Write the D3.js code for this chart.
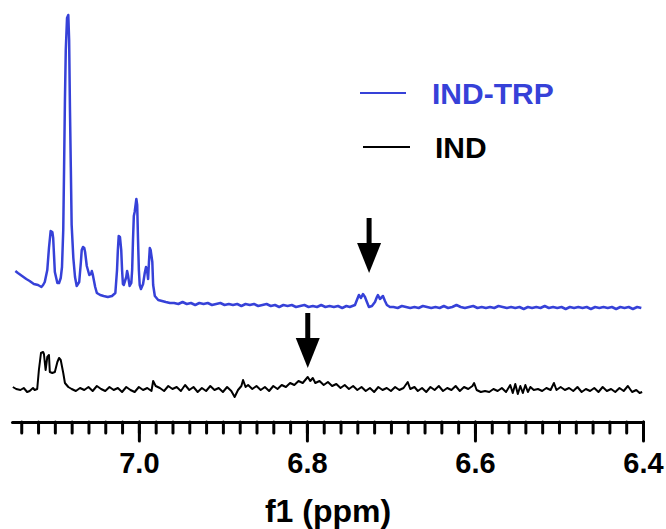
<!DOCTYPE html>
<html>
<head>
<meta charset="utf-8">
<script src="https://cdn.jsdelivr.net/npm/d3@7"></script>
<style>
  body { margin: 0; background: #fff; }
  svg text { font-family: "Liberation Sans", Arial, sans-serif; font-weight: bold; }
</style>
</head>
<body>
<div id="chart"></div>
<script>
// Spectra: [ppm, intensity] (intensity relative to each trace's baseline)
const indTrp = [
  [7.147,35],[7.144,33],[7.139,30],[7.134,27],[7.130,25],[7.125,22],[7.120,21],[7.116,19],[7.114,21],[7.112,24],
  [7.109,36],[7.107,58],[7.105,75],[7.103,74],[7.102,68],[7.101,51],[7.100,34],[7.097,23],[7.095,23],[7.093,28],
  [7.0915,39],[7.090,76],[7.089,139],[7.088,206],[7.087,256],[7.0855,288],[7.084,291],[7.083,266],[7.082,196],[7.081,139],
  [7.080,81],[7.078,48],[7.076,29],[7.074,20],[7.071,24],[7.069,44],[7.068,56],[7.0665,59],[7.065,58],[7.064,54],
  [7.062,40],[7.059,31],[7.057,32],[7.056,35],[7.055,32],[7.052,19],[7.050,13],[7.046,11],[7.042,10],[7.037,9],
  [7.032,10],[7.028,13],[7.026,36],[7.025,56],[7.024,70],[7.0225,69],[7.021,56],[7.020,36],[7.019,22],[7.018,21],
  [7.015,29],[7.014,35],[7.013,31],[7.011,20],[7.009,23],[7.008,36],[7.007,66],[7.006,90],[7.005,94],[7.003,107],
  [7.002,101],[7.001,66],[7.000,36],[6.999,21],[6.9975,17],[6.995,22],[6.993,33],[6.9915,39],[6.990,34],[6.989,27],
  [6.988,44],[6.987,58],[6.986,56],[6.984,44],[6.983,21],[6.981,10],[6.977,6],[6.9725,5],[6.968,4],[6.963,3],
  [6.958,3],[6.953,2],[6.948,4],[6.943,2],[6.938,3],[6.933,1],[6.928,3],[6.923,2],[6.918,3],[6.913,1],
  [6.908,2],[6.903,3],[6.898,1],[6.893,2],[6.888,1],[6.883,2],[6.878,0],[6.873,2],[6.868,1],[6.863,2],
  [6.858,0],[6.853,1],[6.848,2],[6.843,0],[6.838,1],[6.833,-1],[6.828,1],[6.823,0],[6.818,1],[6.813,-1],
  [6.808,0],[6.803,1],[6.798,-1],[6.793,0],[6.788,-1],[6.783,1],[6.778,-1],[6.773,0],[6.768,-1],[6.763,0],
  [6.758,-2],[6.753,0],[6.749,-1],[6.7428,1],[6.7405,6],[6.7381,11],[6.7357,8],[6.7333,12],[6.7309,9],[6.7286,4],
  [6.7262,-1],[6.7226,0],[6.7190,4],[6.7167,9],[6.7155,11],[6.7131,7],[6.7107,9],[6.7095,10],[6.7071,5],[6.7048,1],
  [6.7012,-1],[6.697,-1],[6.692,-2],[6.687,0],[6.682,-1],[6.677,-2],[6.672,-1],[6.667,-2],[6.662,0],[6.657,-1],
  [6.652,-2],[6.647,-1],[6.642,-2],[6.637,0],[6.632,-2],[6.627,-1],[6.622,1],[6.617,-1],[6.612,-2],[6.607,-1],
  [6.602,0],[6.597,-2],[6.592,-1],[6.587,-2],[6.582,-1],[6.577,-2],[6.572,0],[6.567,-1],[6.562,-2],[6.557,-1],
  [6.552,-2],[6.547,-1],[6.542,-3],[6.537,-1],[6.532,-2],[6.527,-1],[6.522,-2],[6.517,0],[6.512,-2],[6.507,-1],
  [6.502,-2],[6.497,-1],[6.492,-3],[6.487,-1],[6.482,-2],[6.477,-1],[6.472,-2],[6.467,-1],[6.462,-3],[6.457,-1],
  [6.452,-2],[6.447,-1],[6.442,-2],[6.437,-1],[6.432,-3],[6.427,-1],[6.422,-2],[6.417,-1],[6.412,-3],[6.407,-1],
  [6.402,-2]
];

const ind = [
  [7.150,2],[7.146,0],[7.141,-1],[7.137,1],[7.133,-3],[7.130,-2],[7.126,1],[7.124,-1],[7.121,0],[7.119,19],
  [7.1165,36],[7.114,37],[7.113,35],[7.111,19],[7.109,32],[7.107,34],[7.106,17],[7.103,16],[7.100,17],[7.097,27],
  [7.095,31],[7.093,29],[7.090,16],[7.088,6],[7.084,2],
  [7.080,0],[7.075,-2],[7.070,1],[7.065,-1],[7.060,2],[7.055,-2],[7.050,3],[7.045,0],[7.040,-2],[7.035,2],
  [7.030,-1],[7.025,1],[7.020,-3],[7.015,2],[7.010,-1],[7.005,-3],[7.000,2],[6.995,-1],[6.990,1],[6.985,-2],
  [6.983,8],[6.980,3],[6.975,1],[6.970,-2],[6.965,3],[6.960,0],[6.955,2],[6.950,-2],[6.945,4],[6.940,-1],
  [6.935,2],[6.930,-3],[6.925,1],[6.920,-2],[6.915,3],[6.910,-1],[6.905,1],[6.900,-3],[6.895,2],[6.890,-2],
  [6.886,-8],[6.882,-1],[6.878,3],[6.876,9],[6.873,2],[6.870,4],[6.865,0],[6.860,3],[6.855,-1],[6.850,2],
  [6.845,-2],[6.840,3],[6.835,0],[6.830,4],[6.825,2],[6.820,6],[6.815,4],[6.810,8],[6.805,6],[6.801,10],
  [6.799,12],[6.796,8],[6.793,11],[6.790,6],[6.785,8],[6.780,4],[6.775,7],[6.770,3],[6.765,5],[6.760,1],
  [6.755,4],[6.750,0],[6.745,3],[6.740,-1],[6.735,2],[6.730,-2],[6.725,1],[6.720,-3],[6.715,2],[6.710,-1],
  [6.705,1],[6.700,-2],[6.695,2],[6.690,-1],[6.685,1],[6.680,7],[6.677,0],[6.672,2],[6.668,-2],[6.663,1],
  [6.658,-3],[6.653,2],[6.648,-1],[6.643,3],[6.638,-2],[6.633,1],[6.628,-1],[6.623,3],[6.618,-2],[6.613,2],
  [6.608,0],[6.603,3],[6.601,6],[6.598,-1],[6.593,-3],[6.588,-2],[6.583,-3],[6.578,0],[6.573,-2],[6.568,1],
  [6.563,-3],[6.558,4],[6.555,-4],[6.552,5],[6.549,-5],[6.546,3],[6.543,-4],[6.540,4],[6.537,-3],[6.534,2],
  [6.530,-1],[6.525,0],[6.520,-2],[6.515,1],[6.510,-1],[6.506,6],[6.503,-1],[6.498,2],[6.493,-1],[6.488,1],
  [6.483,-2],[6.478,2],[6.473,-3],[6.468,0],[6.463,-2],[6.458,1],[6.453,-3],[6.448,2],[6.443,-2],[6.438,0],
  [6.433,-3],[6.428,1],[6.423,-2],[6.418,3],[6.413,-3],[6.408,-1],[6.404,-4],[6.401,-3]
];

const seriesNames = ["IND-TRP", "IND"];
const seriesColors = ["#3641d8", "#000000"];
const seriesOffsets = [116, 33];
const seriesWidths = [2.5, 2];

const majorTicks = [7.0, 6.8, 6.6, 6.4];
const minorTicks = d3.range(7.14, 6.399, -0.02).map(v => +v.toFixed(2));

// arrows: [ppm, level of tip on the common scale]
const arrows = [[6.726, 149], [6.799, 54]];

(function() {
  const width = 666, height = 529;

  const x = d3.scaleLinear().domain([7.151, 6.4]).range([12, 643]);
  const y = d3.scaleLinear().domain([0, 400]).range([422, 22]);

  const svg = d3.select("#chart").append("svg")
    .attr("width", width)
    .attr("height", height);

  // traces
  const traces = [indTrp, ind];
  traces.forEach((data, i) => {
    const line = d3.line()
      .x(d => x(d[0]))
      .y(d => y(seriesOffsets[i] + d[1]));
    svg.append("path")
      .datum(data)
      .attr("fill", "none")
      .attr("stroke", seriesColors[i])
      .attr("stroke-width", seriesWidths[i])
      .attr("stroke-linejoin", "round")
      .attr("d", line);
  });

  // arrows
  arrows.forEach(([ppm, lvl]) => {
    const cx = x(ppm), tip = y(lvl);
    svg.append("line")
      .attr("x1", cx).attr("x2", cx)
      .attr("y1", tip - 55).attr("y2", tip - 28)
      .attr("stroke", "#000").attr("stroke-width", 5);
    svg.append("path")
      .attr("d", `M${cx - 12},${tip - 30}L${cx + 12},${tip - 30}L${cx},${tip}Z`)
      .attr("fill", "#000");
  });

  // axis
  const axisG = svg.append("g").attr("transform", `translate(0,${y(0)})`);

  axisG.append("g")
    .call(d3.axisBottom(x).tickValues(minorTicks).tickSize(11).tickSizeOuter(0).tickFormat(""))
    .call(g => g.select(".domain").remove());

  const major = axisG.append("g")
    .call(d3.axisBottom(x).tickValues(majorTicks).tickSize(19).tickSizeOuter(0).tickFormat(d3.format(".1f")));

  axisG.selectAll(".tick line")
    .attr("stroke", "#000")
    .attr("stroke-width", 3)
    .attr("stroke-linecap", "round");
  major.select(".domain")
    .attr("stroke", "#000")
    .attr("stroke-width", 3)
    .attr("stroke-linecap", "round");
  major.selectAll(".tick text")
    .attr("y", 51)
    .attr("dy", null)
    .attr("fill", "#000")
    .style("font-size", "29px");

  svg.append("text")
    .attr("x", 328)
    .attr("y", 522)
    .attr("text-anchor", "middle")
    .style("font-size", "32px")
    .text("f1 (ppm)");

  // legend
  const legend = svg.append("g");
  seriesNames.forEach((name, i) => {
    const ly = 93 + i * 54;
    legend.append("line")
      .attr("x1", 360 + i * 3).attr("x2", 406 + i * 4)
      .attr("y1", ly).attr("y2", ly)
      .attr("stroke", seriesColors[i])
      .attr("stroke-width", 2);
    legend.append("text")
      .attr("x", 432 + i * 3)
      .attr("y", ly + 11)
      .attr("fill", seriesColors[i])
      .style("font-size", "30px")
      .text(name);
  });
})();
</script>
</body>
</html>
